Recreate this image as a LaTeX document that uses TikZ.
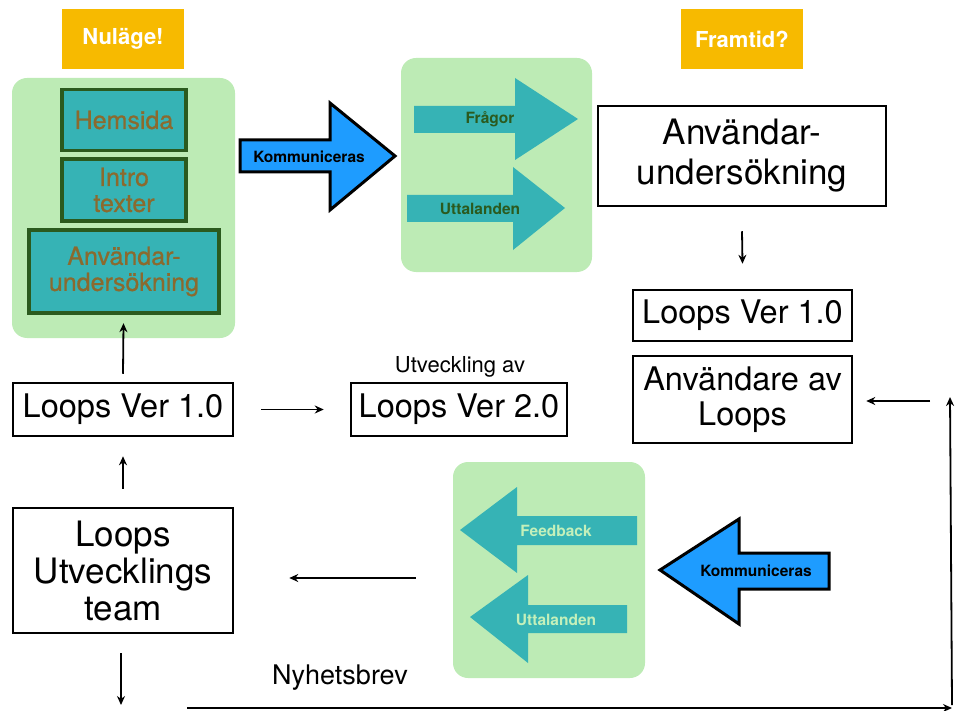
\documentclass[tikz,border=0pt]{standalone}
\usepackage{fontspec}
\setmainfont{TeX Gyre Heros}
\newfontfamily\mediumfont[FakeBold=0.8]{TeX Gyre Heros}
\usetikzlibrary{arrows.meta}

\definecolor{panelgreen}{RGB}{189,235,181}
\definecolor{tealfill}{RGB}{54,179,181}
\definecolor{darkgreen}{RGB}{43,90,30}
\definecolor{textbrown}{RGB}{139,106,46}
\definecolor{labelorange}{RGB}{247,186,0}
\definecolor{arrowblue}{RGB}{30,156,255}
\definecolor{lightgreen}{RGB}{196,240,186}

\begin{document}
\begin{tikzpicture}[x=1pt,y=-1pt,
    panel/.style={fill=panelgreen,rounded corners=15pt,inner sep=0pt},
    tag/.style={fill=labelorange,text=white,inner sep=0pt,minimum width=122pt,minimum height=60pt,
      font=\fontsize{22}{26}\selectfont\bfseries},
    tealbox/.style={draw=darkgreen,line width=3.5pt,fill=tealfill,text=textbrown,align=center,
      inner sep=0pt,font=\mediumfont\fontsize{25}{26}\selectfont},
    box/.style={draw,line width=2.5pt,align=center,inner sep=0pt,font=\fontsize{32.5}{35}\selectfont},
    conn/.style={-{Stealth[length=9pt,width=8pt]},line width=1.8pt},
    blockarrow/.style={draw,line width=3pt,fill=arrowblue,line join=miter},
    innerarrow/.style={fill=tealfill},
    small/.style={font=\fontsize{15.5}{18}\selectfont\bfseries}]
\useasboundingbox (0,0) rectangle (957,711);

% labels on top
\node[tag] (nulage) at (123,39) {Nuläge!};
\node[tag] (framtid) at (742,39) {Framtid?};

% green panels
\node[panel,minimum width=223pt,minimum height=260pt] (nupanel) at (123.5,208) {};
\node[panel,minimum width=191pt,minimum height=214pt] (ftpanel) at (496.5,165) {};
\node[panel,minimum width=192pt,minimum height=216pt] (fbpanel) at (549,570) {};

% present state
\node[tealbox,minimum width=124pt,minimum height=61pt] (hemsida) at (124,120) {Hemsida};
\node[tealbox,minimum width=124pt,minimum height=62pt] (intro) at (124,190) {Intro\\texter};
\node[tealbox,minimum width=190pt,minimum height=83pt] (nuanv) at (124,271.5) {Användar-\\undersökning};

% communication arrows
\draw[blockarrow] (240,140) -- (330,140) -- (330,103) -- (395,156) -- (330,210) -- (330,172) -- (240,172) -- cycle;
\node[small] (komm1) at (309,157) {Kommuniceras};
\draw[blockarrow] (660,570) -- (739,519) -- (739,553) -- (829,553) -- (829,589) -- (739,589) -- (739,624) -- cycle;
\node[small] (komm2) at (756,571) {Kommuniceras};

% arrows inside panels
\fill[innerarrow] (414,106) -- (515,106) -- (515,78) -- (578,119) -- (515,160) -- (515,133) -- (414,133) -- cycle;
\node[small,text=darkgreen] (fragor) at (490,119) {Frågor};
\fill[innerarrow] (407,195) -- (513,195) -- (513,167) -- (565,208) -- (513,250) -- (513,222) -- (407,222) -- cycle;
\node[small,text=darkgreen] (uttal1) at (480,209) {Uttalanden};
\fill[innerarrow] (460,530) -- (517,487) -- (517,516) -- (637,516) -- (637,545) -- (517,545) -- (517,573) -- cycle;
\node[small,text=lightgreen] (feedback) at (556,531) {Feedback};
\fill[innerarrow] (470,617) -- (528,575) -- (528,605) -- (627,605) -- (627,633) -- (528,633) -- (528,663) -- cycle;
\node[small,text=lightgreen] (uttal2) at (556,620) {Uttalanden};

% future
\node[box,minimum width=288pt,minimum height=100pt,font=\fontsize{35}{40}\selectfont] (framanv) at (742,156) {Användar-\\undersökning};
\node[box,minimum width=219pt,minimum height=51pt] (rlv1) at (742.5,315.5) {Loops Ver 1.0};
\node[box,minimum width=219pt,minimum height=87pt] (anvloops) at (742.5,399.5) {Användare av\\Loops};

% development
\node[box,minimum width=220pt,minimum height=53pt] (lv1) at (123,409.5) {Loops Ver 1.0};
\node[box,minimum width=216pt,minimum height=53pt] (lv2) at (459,409.5) {Loops Ver 2.0};
\node[font=\fontsize{22}{26}\selectfont] (utv) at (460,367) {Utveckling av};
\node[box,minimum width=220pt,minimum height=125pt,font=\fontsize{35}{37}\selectfont] (team) at (123,570.5) {Loops\\Utvecklings\\team};
\node[font=\fontsize{27}{30}\selectfont] (nyhet) at (340,678) {Nyhetsbrev};

\coordinate (down) at (121,705);
\coordinate (nyh0) at (187,708);
\coordinate (nyh1) at (952,708);
\coordinate (nyh2) at (950,397);
\coordinate (side) at (930,401);

% connectors
\draw[conn] ([yshift=8]lv1.north) -- ([yshift=15]nupanel.south);
\draw[conn] ([xshift=27]lv1.east) -- ([xshift=-26]lv2.west);
\draw[conn] ([yshift=18]team.north) -- ([yshift=-19]lv1.south);
\draw[conn] ([yshift=-19]team.south -| down) -- (down);
\draw[conn] ([xshift=-37]fbpanel.west |- 0,578) -- ([xshift=55]team.east |- 0,578);
\draw[conn] ([yshift=-24]framanv.south) -- ([yshift=25]rlv1.north);
\draw[conn] (side) -- ([xshift=13]anvloops.east |- side);
\draw[conn] (nyh0) -- (nyh1);
\draw[conn] (nyh1 |- 0,705) -- (nyh2);
\end{tikzpicture}
\end{document}
